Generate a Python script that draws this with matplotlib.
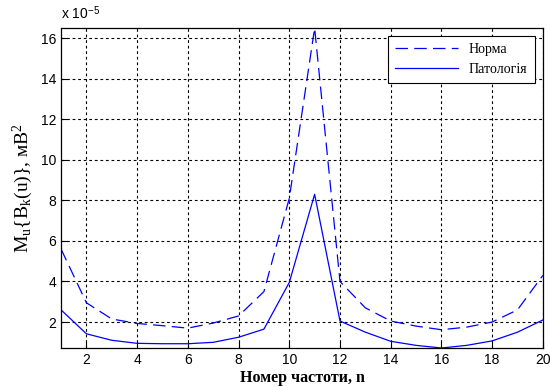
import numpy as np
import matplotlib
matplotlib.use('Agg')
import matplotlib.pyplot as plt

# frequency number
n = list(range(1, 21))
# values in units of 1e-5 mV^2
norma = [5.6, 2.95, 2.15, 1.93, 1.82, 1.7, 1.95, 2.3, 3.5, 8.1,
         16.5, 4.0, 2.7, 2.05, 1.8, 1.62, 1.75, 2.0, 2.6, 4.3]
patol = [2.6, 1.42, 1.1, 0.95, 0.93, 0.93, 1.0, 1.25, 1.65, 3.95,
         8.3, 2.05, 1.5, 1.05, 0.85, 0.72, 0.85, 1.07, 1.5, 2.1]
xticks = [2, 4, 6, 8, 10, 12, 14, 16, 18, 20]
yticks = [2, 4, 6, 8, 10, 12, 14, 16]

plt.rcParams['mathtext.fontset'] = 'custom'
plt.rcParams['mathtext.rm'] = 'Liberation Serif'
plt.rcParams['mathtext.it'] = 'Liberation Serif:italic'

fig = plt.figure(figsize=(5.5, 3.87), dpi=100)
ax = fig.add_axes([0.111, 0.1008, 0.876, 0.8268])

ax.plot(n, norma, color='#0000ff', lw=0.9, linestyle=(0, (10, 5)), label='Норма')
ax.plot(n, patol, color='#0000ff', lw=0.9, linestyle='-', label='Патологія')

ax.set_xlim(1, 20)
ax.set_ylim(min(patol), max(norma))
ax.set_xticks(xticks)
ax.set_yticks(yticks)
ax.tick_params(direction='in', labelsize=10, length=4, width=0.8)
for lab in ax.get_xticklabels() + ax.get_yticklabels():
    lab.set_fontfamily('Liberation Sans')

ax.grid(True, color='black', linestyle=(0, (2.5, 2.5)), lw=0.8)
for sp in ax.spines.values():
    sp.set_linewidth(0.9)

ax.text(0.0, 1.02, r'x 10$^{\mathregular{-5}}$', transform=ax.transAxes,
        fontsize=10, family='Liberation Sans', ha='left', va='bottom')

ax.set_xlabel('Номер частоти, n', fontsize=11.5, fontweight='bold',
              family='Liberation Serif', labelpad=2)
ax.set_ylabel(r'M$_\mathrm{u}${B$_\mathrm{k}$(u)}, мВ$^\mathrm{2}$', fontsize=14,
              family='Liberation Serif', labelpad=4)

leg = ax.legend(loc='upper right', prop={'family': 'Liberation Serif', 'size': 10},
                fancybox=False, edgecolor='black', framealpha=1,
                handlelength=4.5, borderaxespad=0.6, borderpad=0.5)
leg.get_frame().set_linewidth(0.8)

fig.savefig('out.png', dpi=100)
